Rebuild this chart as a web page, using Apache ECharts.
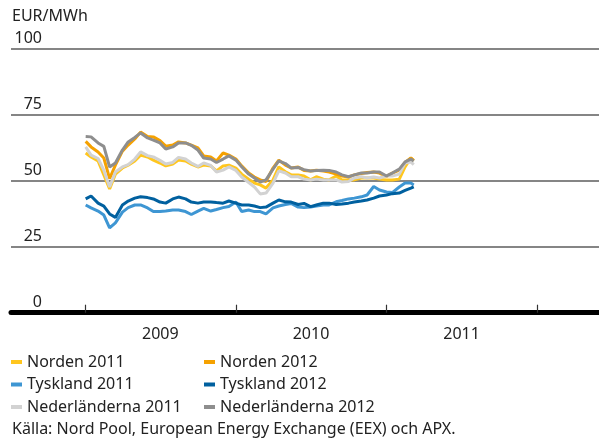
<!DOCTYPE html>
<html>
<head>
<meta charset="utf-8">
<script src="https://cdn.jsdelivr.net/npm/echarts@6/dist/echarts.min.js"></script>
<style>
  html, body { margin: 0; padding: 0; background: #fff; }
  #chart { width: 599px; height: 438px; }
</style>
</head>
<body>
<div id="chart"></div>
<script>
  // halvmånadsvärden, EUR/MWh
  var dates = [
    '2009-01-02', '2009-01-15', '2009-02-01', '2009-02-15', '2009-03-01', '2009-03-15',
    '2009-04-01', '2009-04-15', '2009-05-01', '2009-05-15', '2009-06-01', '2009-06-15',
    '2009-07-01', '2009-07-15', '2009-08-01', '2009-08-15', '2009-09-01', '2009-09-15',
    '2009-10-01', '2009-10-15', '2009-11-01', '2009-11-15', '2009-12-01', '2009-12-15',
    '2010-01-01', '2010-01-15', '2010-02-01', '2010-02-15', '2010-03-01', '2010-03-15',
    '2010-04-01', '2010-04-15', '2010-05-01', '2010-05-15', '2010-06-01', '2010-06-15',
    '2010-07-01', '2010-07-15', '2010-08-01', '2010-08-15', '2010-09-01', '2010-09-15',
    '2010-10-01', '2010-10-15', '2010-11-01', '2010-11-15', '2010-12-01', '2010-12-15',
    '2011-01-01', '2011-01-15', '2011-02-01', '2011-02-15', '2011-03-01', '2011-03-08'
  ]
  var norden2011 = [
    60.5, 59.0, 57.5, 52.2, 46.9, 52.5, 54.8, 55.9, 57.5, 59.7, 59.0, 57.8,
    56.7, 55.6, 56.3, 57.8, 57.5, 56.3, 55.2, 55.9, 55.6, 53.7, 55.6, 55.9,
    54.8, 52.5, 50.6, 49.1, 48.4, 47.2, 50.3, 55.2, 53.4, 52.2, 52.2, 51.8,
    50.3, 51.5, 50.6, 50.3, 51.8, 50.3, 50.3, 50.3, 51.0, 51.0, 51.0, 50.6,
    50.3, 50.3, 50.6, 55.2, 58.6, 57.5
  ]
  var norden2012 = [
    64.9, 62.8, 60.9, 58.6, 50.8, 55.9, 61.2, 63.5, 65.8, 68.4, 66.7, 66.6,
    65.2, 63.1, 63.5, 64.7, 64.3, 63.5, 62.4, 59.4, 59.0, 57.5, 60.5, 59.7,
    58.2, 55.6, 52.9, 51.4, 50.3, 49.7, 54.8, 57.8, 55.9, 54.8, 55.2, 53.9,
    53.7, 54.0, 53.7, 53.3, 52.5, 51.8, 51.4, 52.2, 52.7, 53.1, 53.3, 52.9,
    51.6, 52.9, 54.0, 56.9, 58.6, 57.7
  ]
  var tyskland2011 = [
    40.8, 39.7, 38.5, 37.0, 32.1, 34.0, 38.1, 39.8, 40.8, 40.8, 39.7, 38.3,
    38.3, 38.5, 38.9, 38.9, 38.3, 37.2, 38.5, 39.5, 38.5, 39.1, 39.8, 40.2,
    41.9, 38.3, 38.9, 38.3, 38.3, 37.4, 39.7, 40.4, 41.0, 41.4, 40.0, 39.8,
    40.0, 40.4, 40.8, 40.8, 42.0, 42.5, 43.1, 43.4, 43.9, 44.6, 47.8, 46.5,
    45.7, 45.5, 47.6, 49.1, 49.1, 48.4
  ]
  var tyskland2012 = [
    43.1, 44.2, 41.5, 40.4, 37.4, 36.1, 40.8, 42.3, 43.4, 43.9, 43.6, 43.1,
    41.9, 41.5, 43.1, 43.8, 43.1, 41.9, 41.5, 41.9, 41.9, 41.7, 41.5, 42.3,
    41.5, 40.8, 40.8, 40.4, 39.8, 40.0, 41.5, 42.7, 42.0, 41.9, 41.0, 41.4,
    40.2, 40.8, 41.5, 41.5, 41.0, 41.2, 41.5, 41.9, 42.3, 42.7, 43.4, 44.2,
    44.6, 45.1, 45.3, 46.3, 47.2, 47.7
  ]
  var ned2011 = [
    62.8, 59.7, 58.4, 54.0, 47.6, 53.3, 55.2, 56.1, 58.2, 60.9, 59.5, 59.0,
    57.7, 56.3, 56.9, 58.8, 58.2, 56.7, 55.4, 56.7, 55.8, 53.3, 54.0, 55.2,
    53.9, 51.4, 49.3, 47.6, 45.0, 45.3, 49.1, 53.7, 52.9, 51.5, 51.5, 50.6,
    50.3, 50.6, 50.3, 50.3, 50.3, 49.5, 49.7, 51.0, 51.5, 51.0, 51.4, 51.0,
    51.8, 51.8, 52.5, 56.7, 57.1, 56.1
  ]
  var ned2012 = [
    66.7, 66.6, 64.3, 63.0, 55.2, 56.7, 61.6, 64.7, 66.4, 68.1, 66.2, 65.4,
    64.3, 62.0, 62.8, 64.3, 64.3, 63.4, 61.6, 58.6, 58.2, 56.9, 58.2, 59.4,
    57.8, 55.3, 52.5, 51.0, 49.5, 50.3, 54.4, 57.5, 56.5, 54.8, 55.0, 54.2,
    53.7, 53.9, 54.0, 53.9, 53.3, 52.2, 51.5, 52.2, 52.9, 52.9, 53.3, 53.3,
    51.8, 52.9, 54.4, 57.1, 58.2, 57.5
  ]
  var yearTicks = ['2009-01-01', '2010-01-01', '2011-01-01', '2012-01-01']
  var yearLabels = ['2009-07-02', '2010-07-02', '2011-07-02']

  var fontFamily = 'Noto Sans'
  var fontSize = 16
  var textColor = '#222'

  function toTime(d) {
    return Date.parse(d + 'T00:00:00Z')
  }
  function pairs(values) {
    return dates.map(function(d, i) { return [toTime(d), values[i]] })
  }

  function line(name, values, color) {
    return {
      name: name,
      type: 'line',
      data: pairs(values),
      showSymbol: false,
      symbol: 'none',
      color: color,
      lineStyle: { width: 3, color: color },
      emphasis: { disabled: true },
      animation: false
    }
  }

  var chart = echarts.init(document.getElementById('chart'), null, { renderer: 'canvas' })

  var legendBase = {
    top: 353.5,
    orient: 'vertical',
    icon: 'rect',
    itemWidth: 11,
    itemHeight: 4,
    itemGap: 5.5,
    padding: 0,
    selectedMode: false,
    textStyle: { fontFamily: fontFamily, fontSize: fontSize, color: textColor, lineHeight: 17 }
  }

  var option = {
    backgroundColor: '#fff',
    animation: false,
    title: [
      {
        text: 'EUR/MWh',
        left: 12,
        top: 8,
        padding: 0,
        textStyle: { fontFamily: fontFamily, fontSize: fontSize, fontWeight: 'normal', color: textColor }
      },
      {
        text: 'Källa: Nord Pool, European Energy Exchange (EEX) och APX.',
        left: 12,
        top: 421,
        padding: 0,
        textStyle: { fontFamily: fontFamily, fontSize: fontSize, fontWeight: 'normal', color: textColor }
      }
    ],
    legend: [
      Object.assign({}, legendBase, { left: 11, data: ['Norden 2011', 'Tyskland 2011', 'Nederländerna 2011'] }),
      Object.assign({}, legendBase, { left: 204, data: ['Norden 2012', 'Tyskland 2012', 'Nederländerna 2012'] })
    ],
    grid: {
      left: 11,
      right: 0,
      top: 48.7,
      bottom: 125.3,
      containLabel: false
    },
    xAxis: {
      type: 'value',
      min: toTime('2008-07-05'),
      max: toTime('2012-05-30'),
      axisLine: { show: true, lineStyle: { color: '#000', width: 5 } },
      axisTick: {
        show: true,
        inside: true,
        length: 8,
        customValues: yearTicks.map(toTime),
        lineStyle: { color: '#333', width: 1.2 }
      },
      axisLabel: {
        customValues: yearLabels.map(toTime),
        margin: 14,
        fontFamily: fontFamily,
        fontSize: fontSize,
        color: textColor,
        formatter: function(v) { return String(new Date(v).getUTCFullYear()) }
      },
      splitLine: { show: false }
    },
    yAxis: {
      type: 'value',
      min: 0,
      max: 100,
      interval: 25,
      axisLine: { show: false },
      axisTick: { show: false },
      axisLabel: {
        inside: true,
        margin: 31,
        align: 'right',
        verticalAlign: 'bottom',
        padding: [0, 0, 2, 0],
        fontFamily: fontFamily,
        fontSize: fontSize,
        color: textColor
      },
      splitLine: { show: true, lineStyle: { color: '#858585', width: 2 } }
    },
    series: [
      line('Norden 2011', norden2011, '#FFC61E'),
      line('Norden 2012', norden2012, '#F5A100'),
      line('Tyskland 2011', tyskland2011, '#3E96D3'),
      line('Tyskland 2012', tyskland2012, '#00609F'),
      line('Nederländerna 2011', ned2011, '#D2D2D2'),
      line('Nederländerna 2012', ned2012, '#8E8E8E')
    ]
  }

  chart.setOption(option)
</script>
</body>
</html>
